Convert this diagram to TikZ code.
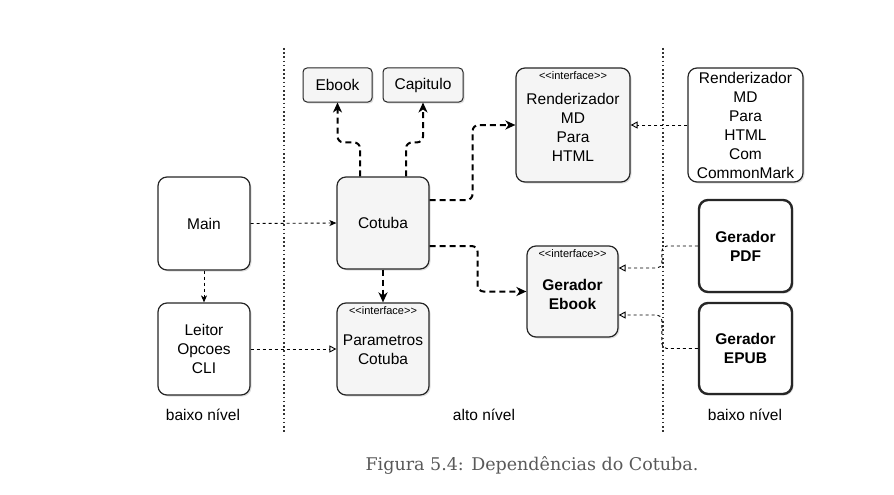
\documentclass[tikz,border=0pt]{standalone}
\usepackage{fontspec}
\setmainfont{Liberation Sans}
\newfontfamily\captionfont{DejaVu Serif}
\usetikzlibrary{arrows.meta,shadows}

\tikzset{
  base/.style={draw=black!85, rounded corners=9pt, line width=1.2pt, align=center,
    font=\fontsize{15.5}{19}\selectfont,
    drop shadow={shadow xshift=1.5pt, shadow yshift=-1.5pt, opacity=.25}},
  plainbox/.style={base, fill=white},
  ifacebox/.style={base, fill=gray!8},
  thickbox/.style={base, fill=white, line width=2.4pt, font=\fontsize{15.5}{19}\selectfont\bfseries},
  smallbox/.style={base, fill=gray!8, rounded corners=4pt, line width=1pt},
  iface/.style={label={[anchor=north, inner sep=4pt, font=\fontsize{11}{13}\selectfont]north:{<{}<interface>{}>}}},
  dep/.style={line width=2pt, dash pattern=on 6pt off 4pt, rounded corners=6pt, -{Stealth[length=10pt,width=9pt,inset=3pt]}},
  uses/.style={line width=.9pt, dash pattern=on 3pt off 3pt, -{Stealth[length=7pt,width=6pt,inset=2pt]}},
  realiz/.style={line width=.9pt, dash pattern=on 3pt off 3pt, rounded corners=5pt, -{Triangle[open,length=7pt,width=7pt]}},
  divider/.style={line width=1.6pt, dash pattern=on 1.6pt off 2.6pt, black!80},
  level/.style={font=\fontsize{15.5}{19}\selectfont}
}

\begin{document}
\begin{tikzpicture}[x=1pt, y=-1pt]
  \useasboundingbox (0,0) rectangle (894,495);

  % layer dividers
  \draw[divider] (284,48) -- (284,432);
  \draw[divider] (663,48) -- (663,432);

  % low level, left
  \node[plainbox, minimum width=92pt, minimum height=93pt] (main) at (204,223.5) {Main};
  \node[plainbox, minimum width=92pt, minimum height=92pt] (leitor) at (204,349) {Leitor\\Opcoes\\CLI};

  % high level
  \node[smallbox, minimum width=69pt, minimum height=34pt] (ebook) at (337.5,85) {Ebook};
  \node[smallbox, minimum width=80pt, minimum height=34pt] (capitulo) at (423,85) {Capitulo};
  \node[ifacebox, minimum width=92pt, minimum height=92pt] (cotuba) at (383,223) {Cotuba};
  \node[ifacebox, iface, minimum width=92pt, minimum height=92pt] (params) at (383,349) {\\[-6pt]Parametros\\Cotuba};
  \node[ifacebox, iface, minimum width=114pt, minimum height=114pt] (renderIf) at (573,125) {\\[-4pt]Renderizador\\MD\\Para\\HTML};
  \node[ifacebox, iface, minimum width=91pt, minimum height=91pt, font=\fontsize{15.5}{19}\selectfont\bfseries] (geradorEbook) at (572.5,291.5) {\\[-1pt]Gerador\\Ebook};

  % low level, right
  \node[plainbox, minimum width=115pt, minimum height=114pt] (renderImpl) at (745.5,125) {Renderizador\\MD\\Para\\HTML\\Com\\CommonMark};
  \node[thickbox, minimum width=93pt, minimum height=92pt] (pdf) at (745.5,246) {Gerador\\PDF};
  \node[thickbox, minimum width=93pt, minimum height=91pt] (epub) at (745.5,348.5) {Gerador\\EPUB};

  % level captions
  \node[level] (lowLeft) at (203,415) {baixo nível};
  \node[level] (high) at (484,415) {alto nível};
  \node[level] (lowRight) at (745,415) {baixo nível};

  % dependencies
  \draw[uses] (main.east) -- (cotuba.west);
  \draw[uses] (main.south) -- (leitor.north);
  \draw[realiz] (leitor.east) -- (params.west);
  \draw[dep] (cotuba.south) -- (params.north);
  \draw[dep] ([xshift=-23pt]cotuba.north) -- ++(0,-34) -| (ebook.south);
  \draw[dep] ([xshift=23pt]cotuba.north) -- ++(0,-34) -| (capitulo.south);
  \draw[dep] ([yshift=23pt]cotuba.east) -- ++(43,0) |- (renderIf.west);
  \draw[dep] ([yshift=-23pt]cotuba.east) -- ++(48,0) |- (geradorEbook.west);

  % implementations
  \draw[realiz] (renderImpl.west) -- (renderIf.east);
  \draw[realiz] (pdf.west) -- ++(-36,0) |- ([yshift=23.5pt]geradorEbook.east);
  \draw[realiz] (epub.west) -- ++(-36,0) |- ([yshift=-23.5pt]geradorEbook.east);

  % figure caption
  \node[font=\captionfont\fontsize{17.5}{21}\selectfont, text=black!65] (caption) at (532,465) {Figura 5.4: Dependências do Cotuba.};
\end{tikzpicture}
\end{document}
